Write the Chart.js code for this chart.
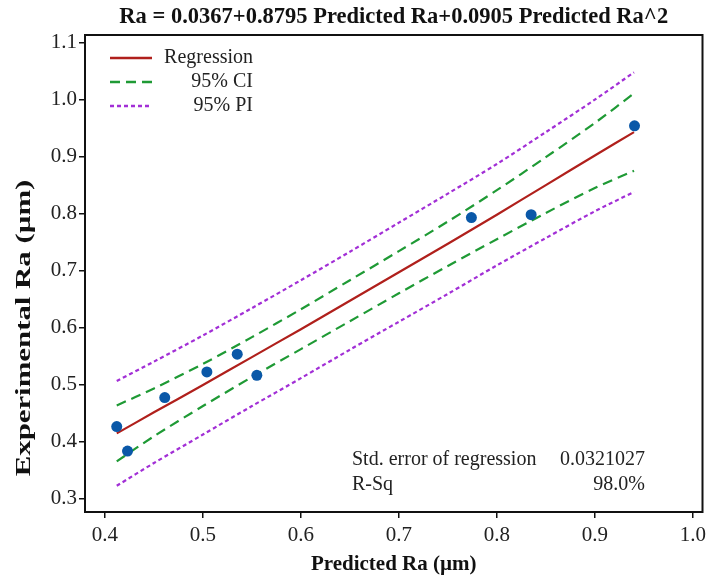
<!DOCTYPE html>
<html>
<head>
<meta charset="utf-8">
<script src="https://cdn.jsdelivr.net/npm/chart.js@4.4.1/dist/chart.umd.min.js"></script>
<style>
  html, body { margin: 0; padding: 0; background: #fff; }
  #wrap { width: 708px; height: 579px; }
</style>
</head>
<body>
<div id="wrap"><canvas id="chart"></canvas></div>
<script>
// observed points
const predRa = [0.412, 0.423, 0.461, 0.504, 0.535, 0.555, 0.774, 0.835, 0.9405];
const expRa  = [0.426, 0.383, 0.477, 0.522, 0.553, 0.516, 0.793, 0.798, 0.954];

// fitted curve and bands
const fitX    = [0.412, 0.45, 0.5, 0.55, 0.6, 0.65, 0.7, 0.75, 0.8, 0.85, 0.9, 0.94];
const fitY    = [0.414, 0.451, 0.499, 0.548, 0.597, 0.647, 0.697, 0.747, 0.798, 0.850, 0.902, 0.943];
const ciUpper = [0.463, 0.493, 0.536, 0.583, 0.632, 0.683, 0.734, 0.786, 0.841, 0.899, 0.959, 1.011];
const ciLower = [0.365, 0.409, 0.462, 0.513, 0.562, 0.611, 0.660, 0.708, 0.755, 0.801, 0.845, 0.875];
const piUpper = [0.506, 0.540, 0.586, 0.634, 0.683, 0.733, 0.784, 0.835, 0.887, 0.943, 1.000, 1.048];
const piLower = [0.322, 0.362, 0.412, 0.462, 0.511, 0.561, 0.610, 0.659, 0.709, 0.757, 0.804, 0.838];

const xTicks = [0.4, 0.5, 0.6, 0.7, 0.8, 0.9, 1.0];
const yTicks = [0.3, 0.4, 0.5, 0.6, 0.7, 0.8, 0.9, 1.0, 1.1];

const titleText = "Ra = 0.0367+0.8795 Predicted Ra+0.0905 Predicted Ra^2";
const xTitle = "Predicted Ra (\u00b5m)";
const yTitle = "Experimental Ra (\u00b5m)";
const statLabels = ["Std. error of regression", "R-Sq"];
const statValues = ["0.0321027", "98.0%"];

const RED = "#b0201c", GREEN = "#1f9a35", PURPLE = "#a22fd6", BLUE = "#0a58a8";
const serif = "'Liberation Serif', 'Times New Roman', serif";

const xy = (xs, ys) => xs.map((x, i) => ({ x: x, y: ys[i] }));

function lineSet(label, ys, color, dash, legend) {
  return {
    label: label, data: xy(fitX, ys), showLine: true, borderColor: color,
    borderWidth: 2.2, borderDash: dash, pointRadius: 0, tension: 0.3, legendText: legend
  };
}

// frame around plot, legend box, stats text, rotated y title
const extras = {
  id: "extras",
  afterDraw(chart) {
    const { ctx, chartArea: a } = chart;
    ctx.save();
    ctx.strokeStyle = "#111";
    ctx.lineWidth = 2;
    ctx.strokeRect(a.left, a.top, a.right - a.left, a.bottom - a.top);

    // legend
    ctx.font = "20px " + serif;
    ctx.fillStyle = "#222";
    ctx.textBaseline = "middle";
    let ly = a.top + 23;
    chart.data.datasets.forEach(ds => {
      if (!ds.legendText) return;
      ctx.beginPath();
      ctx.strokeStyle = ds.borderColor;
      ctx.lineWidth = 2.4;
      ctx.setLineDash(ds.borderDash || []);
      ctx.moveTo(a.left + 25, ly);
      ctx.lineTo(a.left + 67, ly);
      ctx.stroke();
      ctx.setLineDash([]);
      ctx.textAlign = "right";
      ctx.fillText(ds.legendText, a.left + 168, ly);
      ly += 24;
    });

    // stats
    statLabels.forEach((s, i) => {
      const y = 460 + i * 25;
      ctx.textAlign = "left";
      ctx.fillText(s, 352, y);
      ctx.textAlign = "right";
      ctx.fillText(statValues[i], 645, y);
    });

    // y axis title (stretched along its length like the original)
    ctx.translate(24, 328);
    ctx.rotate(-Math.PI / 2);
    ctx.scale(1.4, 1);
    ctx.font = "bold 22px " + serif;
    ctx.textAlign = "center";
    ctx.fillStyle = "#111";
    ctx.fillText(yTitle, 0, 0);
    ctx.restore();
  }
};

new Chart(document.getElementById("chart"), {
  type: "scatter",
  data: {
    datasets: [
      { label: "Data", data: xy(predRa, expRa), backgroundColor: BLUE, borderWidth: 0, pointRadius: 5.5 },
      lineSet("Regression", fitY, RED, [], "Regression"),
      lineSet("95% CI", ciUpper, GREEN, [10, 6], "95% CI"),
      lineSet("95% CI lower", ciLower, GREEN, [10, 6]),
      lineSet("95% PI", piUpper, PURPLE, [4, 3], "95% PI"),
      lineSet("95% PI lower", piLower, PURPLE, [4, 3])
    ]
  },
  options: {
    responsive: true,
    maintainAspectRatio: false,
    animation: false,
    layout: { padding: { top: 0, right: 5, bottom: 0, left: 0 } },
    plugins: {
      legend: { display: false },
      tooltip: { enabled: false },
      title: {
        display: true, text: titleText, fullSize: false, color: "#111",
        font: { family: serif, size: 22.5, weight: "bold", lineHeight: 1.2 },
        padding: { top: 4, bottom: 4 }
      }
    },
    scales: {
      x: {
        type: "linear", min: 0.3796, max: 1.0099,
        afterBuildTicks: s => { s.ticks = xTicks.map(v => ({ value: v })); },
        afterFit: s => { s.height = 67; s.paddingLeft = 0; s.paddingRight = 5; },
        border: { display: false },
        grid: { drawOnChartArea: false, drawTicks: true, tickLength: 6, color: "#111", lineWidth: 1.5 },
        ticks: { color: "#222", padding: 5, font: { family: serif, size: 21 }, callback: v => v.toFixed(1) },
        title: {
          display: true, text: xTitle, color: "#111",
          font: { family: serif, size: 21, weight: "bold", lineHeight: 1.2 },
          padding: { top: 0, bottom: 2 }
        }
      },
      y: {
        type: "linear", min: 0.276, max: 1.1135,
        afterBuildTicks: s => { s.ticks = yTicks.map(v => ({ value: v })); },
        afterFit: s => { s.width = 85; s.paddingTop = 0; s.paddingBottom = 0; },
        border: { display: false },
        grid: { drawOnChartArea: false, drawTicks: true, tickLength: 6, color: "#111", lineWidth: 1.5 },
        ticks: { color: "#222", padding: 2, font: { family: serif, size: 21 }, callback: v => v.toFixed(1) }
      }
    }
  },
  plugins: [extras]
});
</script>
</body>
</html>
